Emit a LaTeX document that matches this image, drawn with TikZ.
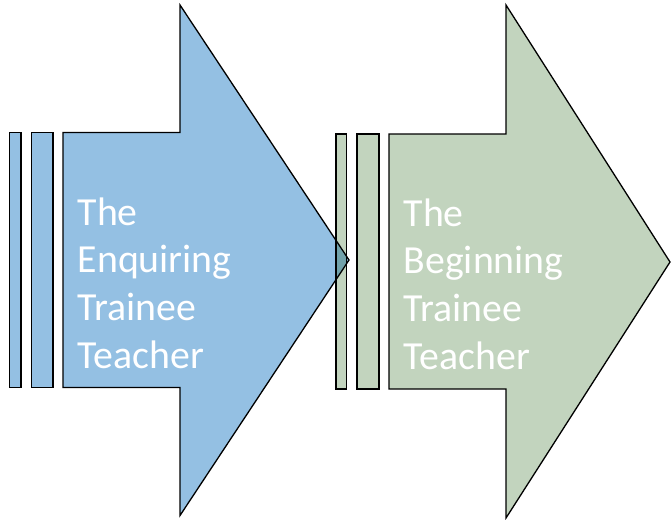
\documentclass[tikz,border=0pt]{standalone}
\usepackage{fontspec}
\setmainfont{Carlito}
\definecolor{arrblue}{RGB}{148,192,227}
\definecolor{arrgreen}{RGB}{194,212,190}
\definecolor{arrteal}{RGB}{114,162,170}
\tikzset{
  outl/.style={draw=black,line width=1.3pt,line join=miter},
  lbl/.style={anchor=base west,inner sep=0pt,text=white,font=\fontsize{39.8}{47}\selectfont}
}
\begin{document}
\begin{tikzpicture}[x=1pt,y=-1pt]
\useasboundingbox (0,0) rectangle (671,519);
% shapes
\def\bluearrow{(63,132.5) -- (180,132.5) -- (180,5) -- (349,260) -- (180,515.5) -- (180,387.5) -- (63,387.5) -- cycle}
\def\greenarrow{(389,134) -- (506,134) -- (506,5) -- (670,262) -- (506,518) -- (506,389) -- (389,389) -- cycle}
% fills
\fill[arrblue] \bluearrow;
\fill[arrblue] (9.5,132.5) rectangle (21,387.5);
\fill[arrblue] (31.5,132.5) rectangle (53,387.5);
\fill[arrgreen] \greenarrow;
\fill[arrgreen] (336,134) rectangle (346.5,389);
\fill[arrgreen] (357,134) rectangle (379,389);
\begin{scope}
  \clip \bluearrow;
  \fill[arrteal] (336,134) rectangle (346.5,389);
\end{scope}
% outlines
\draw[outl] \bluearrow;
\draw[outl] (9.5,132.5) rectangle (21,387.5);
\draw[outl] (31.5,132.5) rectangle (53,387.5);
\draw[outl] \greenarrow;
\draw[outl] (336,134) rectangle (346.5,389);
\draw[outl] (357,134) rectangle (379,389);
% labels
\node[lbl] (b1) at (77.5,225) {The};
\node[lbl] (b2) at (77.5,272) {Enquiring};
\node[lbl] (b3) at (77.5,320) {Trainee};
\node[lbl] (b4) at (77.5,368) {Teacher};
\node[lbl] (g1) at (403.5,226) {The};
\node[lbl] (g2) at (403.5,273) {Beginning};
\node[lbl] (g3) at (403.5,321) {Trainee};
\node[lbl] (g4) at (403.5,369) {Teacher};
\end{tikzpicture}
\end{document}
